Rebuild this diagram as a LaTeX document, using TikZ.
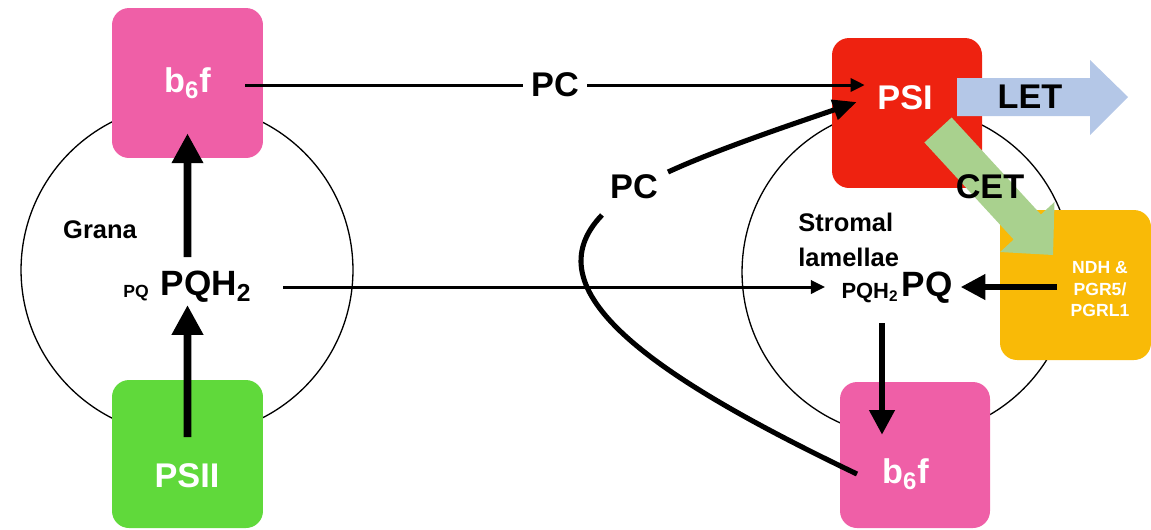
\documentclass[tikz,border=0pt]{standalone}
\usepackage{fontspec}
\setmainfont{Liberation Sans}
\usetikzlibrary{arrows.meta,calc}
\definecolor{pinkb}{RGB}{239,95,167}
\definecolor{greenps}{RGB}{96,217,59}
\definecolor{redps}{RGB}{238,34,16}
\definecolor{orangendh}{RGB}{249,186,7}
\definecolor{letblue}{RGB}{180,199,231}
\definecolor{cetgreen}{RGB}{169,209,142}
\begin{document}
\begin{tikzpicture}[x=0.02cm,y=-0.02cm,
 box/.style={rounded corners=0.34cm, inner sep=0, draw=none},
 bigw/.style={font=\fontsize{19.5}{23}\selectfont\bfseries, text=white, inner sep=0},
 bigk/.style={font=\fontsize{19.5}{23}\selectfont\bfseries, inner sep=0},
 midk/.style={font=\fontsize{14.5}{20}\selectfont\bfseries, inner sep=0},
 ring/.style={circle, draw, line width=0.75pt, inner sep=0, minimum size=6.64cm},
 thinarr/.style={line width=1.7pt, -{Triangle[length=8pt,width=7.5pt]}},
 thickarr/.style={line width=4.5pt, -{Triangle[length=17pt,width=17pt]}},
 medarr/.style={line width=3.1pt, -{Triangle[length=14pt,width=14pt]}},
 pcarr/.style={line width=2.9pt, -{Triangle[length=13.5pt,width=11.5pt]}},
 pcline/.style={line width=2.9pt},
]
\useasboundingbox (0,0) rectangle (1151,529);
% membranes
\node[ring] (granaC) at (187,270) {};
\node[ring, minimum size=6.6cm] (stromaC) at (907,272) {};
% complexes
\node[box, fill=pinkb, minimum width=3.02cm, minimum height=3cm, bigw] (b6fA) at (187.5,83) {b\textsubscript{6}f};
\node[box, fill=greenps, minimum width=3.02cm, minimum height=2.96cm] (psii) at (187.5,454) {};
\node[bigw] (psiiT) at (187,476) {PSII};
\node[box, fill=redps, minimum width=3cm, minimum height=3cm] (psi) at (907,113) {};
\node[bigw] (psiT) at (905,97.5) {PSI};
\node[box, fill=orangendh, minimum width=3.02cm, minimum height=3cm] (ndh) at (1075.5,285) {};
\node[box, fill=pinkb, minimum width=3cm, minimum height=2.92cm] (b6fB) at (915,455) {};
\node[bigw] (b6fBT) at (905.5,474) {b\textsubscript{6}f};
% LET and CET block arrows
\fill[letblue] (957,78) -- (1090,78) -- (1090,60) -- (1128,97) -- (1090,135) -- (1090,116) -- (957,116) -- cycle;
\fill[cetgreen] (951.6,117.5) -- (1040.9,214.5) -- (1054.5,202) -- (1053,255) -- (1000.1,252) -- (1013.7,239.5) -- (924.4,142.5) -- cycle;
% texts
\node[bigk] (letT) at (1030,97) {LET};
\node[bigk] (cetT) at (990,187) {CET};
\node[font=\fontsize{10}{12.5}\selectfont\bfseries, text=white, align=center, inner sep=0] (ndhT) at (1100,289) {NDH \&\\PGR5/\\PGRL1};
\node[midk] (grana) at (100,230) {Grana};
\node[midk, align=left, anchor=west] (strom) at (798,240) {Stromal\\lamellae};
\node[font=\fontsize{10}{12}\selectfont\bfseries, inner sep=0] (pqL) at (136,293) {PQ};
\node[font=\fontsize{20}{24}\selectfont\bfseries, inner sep=0] (pqh2L) at (206,287) {PQH\textsubscript{2}};
\node[font=\fontsize{12.5}{15}\selectfont\bfseries, inner sep=0] (pqh2R) at (870,293) {PQH\textsubscript{2}};
\node[font=\fontsize{20}{24}\selectfont\bfseries, inner sep=0] (pqR) at (927,288) {PQ};
% connectors
\draw[thinarr] ($(b6fA.east)+(-18,2)$) -- node[bigk, fill=white, inner xsep=0.16cm, inner ysep=0.1cm] (pcTop) {PC} ($(psi.west)+(33,-28)$);
\draw[thinarr] ($(pqh2L.center)+(77,0)$) -- ($(pqh2R.center)+(-45,-6)$);
\draw[thickarr] ($(psii.center)+(0,-17)$) -- ($(pqh2L.center)+(-18.5,18)$);
\draw[thickarr] ($(pqh2L.center)+(-18.5,-30)$) -- ($(b6fA.south)+(0,-25)$);
\draw[medarr] ($(ndh.center)+(-18.5,2)$) -- ($(pqR.east)+(8,-1)$);
\draw[medarr] ($(pqR.center)+(-45,35)$) -- ($(b6fB.north)+(-33,53)$);
% PC shuttle curve
\coordinate (pcStart) at ($(b6fB.center)+(-58,19)$);
\node[bigk] (pcMid) at (634,187) {PC};
\draw[pcline] (pcStart) .. controls (650,375) and (530,290) .. ($(pcMid.center)+(-32,28)$);
\draw[pcarr] ($(pcMid.center)+(34,-15)$) .. controls (720,148) and (805,120) .. ($(psi.west)+(25,-11)$);
\end{tikzpicture}
\end{document}
